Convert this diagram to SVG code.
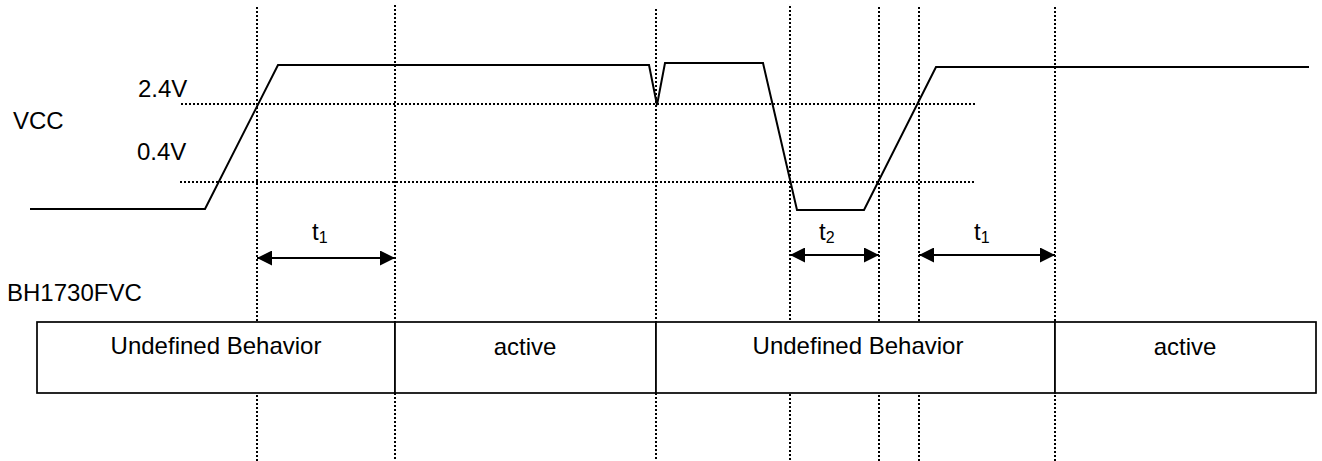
<svg xmlns="http://www.w3.org/2000/svg" width="1322" height="461" viewBox="0 0 1322 461">
  <style>
    .lbl { font-family: "Liberation Sans", Arial, sans-serif; font-size: 24px; fill: #000; }
    .sub { font-size: 16px; }
    .mid { text-anchor: middle; }
    .guide { stroke: #000; stroke-width: 2; stroke-dasharray: 2 2; fill: none; }
    .wave { stroke: #000; stroke-width: 2; fill: none; stroke-linejoin: miter; }
    .box { stroke: #000; stroke-width: 1.7; fill: #fff; }
    .dim { stroke: #000; stroke-width: 2; fill: none; marker-start: url(#head-l); marker-end: url(#head-r); }
  </style>
  <defs>
    <marker id="head-r" viewBox="0 0 15 15" refX="15" refY="7.5" markerWidth="15" markerHeight="15" markerUnits="userSpaceOnUse" orient="auto">
      <path d="M0,0 L15,7.5 L0,15 Z" fill="#000"/>
    </marker>
    <marker id="head-l" viewBox="0 0 15 15" refX="0" refY="7.5" markerWidth="15" markerHeight="15" markerUnits="userSpaceOnUse" orient="auto">
      <path d="M15,0 L0,7.5 L15,15 Z" fill="#000"/>
    </marker>
  </defs>

  <!-- time markers (vertical) and voltage thresholds (horizontal) -->
  <g id="guides">
    <line class="guide" x1="257" y1="7" x2="257" y2="461"/>
    <line class="guide" x1="395" y1="5" x2="395" y2="461"/>
    <line class="guide" x1="656" y1="9" x2="656" y2="461"/>
    <line class="guide" x1="790" y1="6" x2="790" y2="461"/>
    <line class="guide" x1="879" y1="7" x2="879" y2="461"/>
    <line class="guide" x1="919" y1="7" x2="919" y2="461"/>
    <line class="guide" x1="1055" y1="7" x2="1055" y2="461"/>
    <line class="guide" x1="181" y1="104" x2="976" y2="104"/>
    <line class="guide" x1="180" y1="182" x2="974" y2="182"/>
  </g>

  <!-- VCC waveform -->
  <g id="vcc">
    <path class="wave" d="M30,209 L205,209 L278,65 L649,65 L657,105 L665,63 L763,63 L797,210 L864,210 L936,67 L1309,67"/>
    <text class="lbl" x="13" y="129">VCC</text>
    <text class="lbl" x="138" y="97">2.4V</text>
    <text class="lbl" x="137" y="160">0.4V</text>
  </g>

  <!-- timing intervals -->
  <g id="connectors">
    <line class="dim" x1="257" y1="258" x2="395" y2="258"/>
    <line class="dim" x1="790" y1="255" x2="879" y2="255"/>
    <line class="dim" x1="919" y1="255" x2="1055" y2="255"/>
  </g>
  <g id="t1-a"><text class="lbl" x="312" y="240">t<tspan class="sub" dy="3">1</tspan></text></g>
  <g id="t2"><text class="lbl" x="819" y="240">t<tspan class="sub" dy="3">2</tspan></text></g>
  <g id="t1-b"><text class="lbl" x="974" y="240">t<tspan class="sub" dy="3">1</tspan></text></g>

  <!-- device state row -->
  <text class="lbl" x="7" y="301">BH1730FVC</text>
  <g id="state-undef-1">
    <rect class="box" x="37" y="322" width="358" height="71"/>
    <text class="lbl mid" x="216" y="354">Undefined Behavior</text>
  </g>
  <g id="state-active-1">
    <rect class="box" x="395" y="322" width="261" height="71"/>
    <text class="lbl mid" x="525" y="355">active</text>
  </g>
  <g id="state-undef-2">
    <rect class="box" x="656" y="322" width="399" height="71"/>
    <text class="lbl mid" x="858" y="354">Undefined Behavior</text>
  </g>
  <g id="state-active-2">
    <rect class="box" x="1055" y="322" width="261" height="71"/>
    <text class="lbl mid" x="1185" y="355">active</text>
  </g>
</svg>
